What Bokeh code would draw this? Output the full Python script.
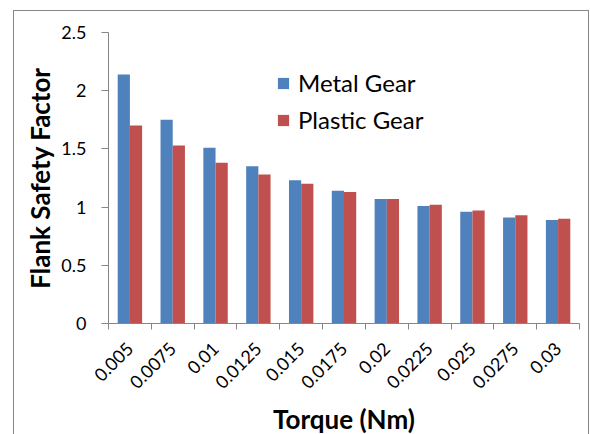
from math import pi

import numpy as np
from bokeh.core.properties import value
from bokeh.embed import file_html
from bokeh.models import (FixedTicker, Legend, LegendItem,
                          NumeralTickFormatter, Range1d)
from bokeh.plotting import figure
from bokeh.resources import INLINE

# Flank safety factor against applied torque for the two gear materials
torque = ["0.005", "0.0075", "0.01", "0.0125", "0.015", "0.0175",
          "0.02", "0.0225", "0.025", "0.0275", "0.03"]
metal = [2.14, 1.75, 1.51, 1.35, 1.23, 1.14, 1.07, 1.01, 0.96, 0.91, 0.89]
plastic = [1.70, 1.53, 1.38, 1.28, 1.20, 1.13, 1.07, 1.02, 0.97, 0.93, 0.90]
y_ticks = [0, 0.5, 1, 1.5, 2, 2.5]
y_max = 2.5

BLUE = "#4F81BD"
RED = "#C0504D"
AXIS_GREY = "#868686"
FONT = "Lato"

# Canvas layout in pixels. The frame covers the whole canvas so that the
# slanted category labels and both axis titles can be drawn as text glyphs;
# the axes are pinned to x = -0.5 and y = 0 inside it.
W, H = 576, 430
AXIS_COL, PLOT_RIGHT = 94, 565        # value axis column, right end of category axis
TOP_ROW, ZERO_ROW = 21, 312           # pixel rows of y = y_max and y = 0

n = len(torque)
x_unit = (PLOT_RIGHT - AXIS_COL) / n
y_unit = (ZERO_ROW - TOP_ROW) / y_max
x_lo = -0.5 - AXIS_COL / x_unit
x_hi = n - 0.5 + (W - PLOT_RIGHT) / x_unit
y_lo = -(H - ZERO_ROW) / y_unit
y_hi = y_max + TOP_ROW / y_unit

x = np.arange(n)
bar_w = 0.285

p = figure(width=W, height=H,
           x_range=Range1d(x_lo, x_hi), y_range=Range1d(y_lo, y_hi),
           output_backend="svg", toolbar_location=None,
           min_border_left=0, min_border_right=0,
           min_border_top=0, min_border_bottom=0)
# thin grey frame around the whole chart
p.styles = {"margin-left": "13px", "margin-top": "10px",
            "border": f"1px solid {AXIS_GREY}"}
p.outline_line_color = None
p.xgrid.visible = False
p.ygrid.visible = False
p.background_fill_color = "white"
p.border_fill_color = "white"

r_metal = p.vbar(x=x - bar_w / 2, top=metal, width=bar_w,
                 fill_color=BLUE, line_color=None)
r_plastic = p.vbar(x=x + bar_w / 2, top=plastic, width=bar_w,
                   fill_color=RED, line_color=None)

# category axis along y = 0, tick marks on category boundaries only
xa = p.xaxis[0]
xa.fixed_location = 0
xa.bounds = (-0.5, n - 0.5)
xa.ticker = FixedTicker(ticks=[],
                        minor_ticks=[float(v) - 0.5 for v in x] + [n - 0.5])
xa.major_tick_out = 0
xa.major_tick_in = 0
xa.minor_tick_out = 6
xa.minor_tick_in = 0
xa.minor_tick_line_color = AXIS_GREY
xa.axis_line_color = AXIS_GREY

# value axis along x = -0.5
ya = p.yaxis[0]
ya.fixed_location = -0.5
ya.bounds = (0, y_max)
ya.ticker = FixedTicker(ticks=y_ticks)
ya.formatter = NumeralTickFormatter(format="0.[0]")
ya.major_tick_out = 7
ya.major_tick_in = 0
ya.minor_tick_out = 0
ya.minor_tick_in = 0
ya.major_tick_line_color = AXIS_GREY
ya.axis_line_color = AXIS_GREY
ya.major_label_text_font = FONT
ya.major_label_text_font_size = "18px"
ya.major_label_text_color = "black"
ya.major_label_standoff = 15

# slanted category labels, ending at each category centre
p.text(x=x, y=np.zeros(n), text=torque,
       angle=pi / 4, text_align="right", text_baseline="middle",
       x_offset=0, y_offset=22,
       text_font=value(FONT), text_font_size="18px", text_color="black")

# axis titles
p.text(x=[(n - 1) / 2], y=[0], text=["Torque (Nm)"],
       text_align="center", text_baseline="middle", y_offset=95,
       text_font=value(FONT), text_font_style=value("bold"),
       text_font_size="26px", text_color="black")
p.text(x=[-0.5], y=[y_max / 2], text=["Flank Safety Factor"],
       angle=pi / 2, text_align="center", text_baseline="middle", x_offset=-69,
       text_font=value(FONT), text_font_style=value("bold"),
       text_font_size="26px", text_color="black")

legend = Legend(items=[LegendItem(label="Metal Gear", renderers=[r_metal]),
                       LegendItem(label="Plastic Gear", renderers=[r_plastic])],
                location=(262, 307),
                padding=0, margin=0, spacing=8,
                glyph_width=14, glyph_height=14, label_height=22,
                label_standoff=8, border_line_color=None,
                background_fill_alpha=0,
                label_text_font=FONT, label_text_font_size="24px",
                label_text_color="black")
p.add_layout(legend)

open("out.html", "w").write(file_html(p, INLINE))
